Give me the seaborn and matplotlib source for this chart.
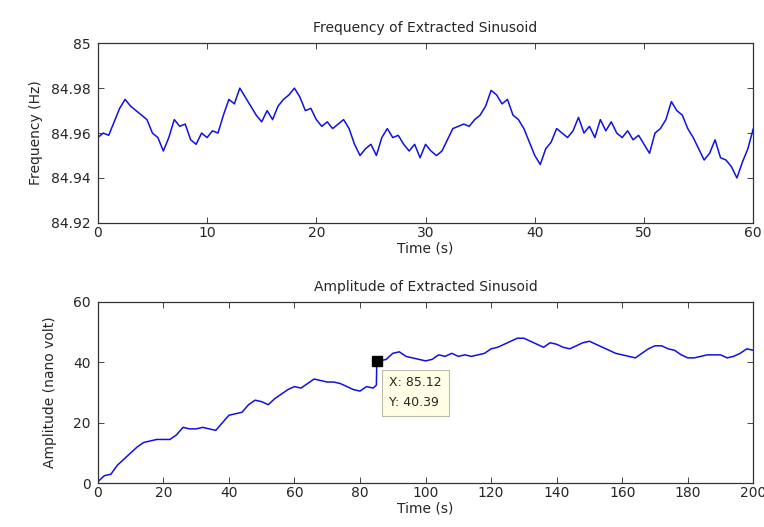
import numpy as np
import pandas as pd
import matplotlib
matplotlib.use("Agg")
import matplotlib.pyplot as plt
import seaborn as sns

freq_time = np.arange(0, 60.01, 0.5)
freq_hz = [
    84.958, 84.960, 84.959, 84.965, 84.971, 84.975, 84.972, 84.970, 84.968, 84.966,
    84.960, 84.958, 84.952, 84.958, 84.966, 84.963, 84.964, 84.957, 84.955, 84.960,
    84.958, 84.961, 84.960, 84.968, 84.975, 84.973, 84.980, 84.976, 84.972, 84.968,
    84.965, 84.970, 84.966, 84.972, 84.975, 84.977, 84.980, 84.976, 84.970, 84.971,
    84.966, 84.963, 84.965, 84.962, 84.964, 84.966, 84.962, 84.955, 84.950, 84.953,
    84.955, 84.950, 84.958, 84.962, 84.958, 84.959, 84.955, 84.952, 84.955, 84.949,
    84.955, 84.952, 84.950, 84.952, 84.957, 84.962, 84.963, 84.964, 84.963, 84.966,
    84.968, 84.972, 84.979, 84.977, 84.973, 84.975, 84.968, 84.966, 84.962, 84.956,
    84.950, 84.946, 84.953, 84.956, 84.962, 84.960, 84.958, 84.961, 84.967, 84.960,
    84.963, 84.958, 84.966, 84.961, 84.965, 84.960, 84.958, 84.961, 84.957, 84.959,
    84.955, 84.951, 84.960, 84.962, 84.966, 84.974, 84.970, 84.968, 84.962, 84.958,
    84.953, 84.948, 84.951, 84.957, 84.949, 84.948, 84.945, 84.940, 84.947, 84.953,
    84.962,
]

# amplitude of extracted sinusoid (nano volt)
amp_time = [0, 2, 4, 6, 8, 10, 12, 14, 16, 18, 20, 22, 24, 26, 28, 30, 32, 34, 36, 38,
            40, 42, 44, 46, 48, 50, 52, 54, 56, 58, 60, 62, 64, 66, 68, 70, 72, 74, 76, 78,
            80, 82, 84, 85, 85.12, 86, 88, 90, 92, 94, 96, 98, 100, 102, 104, 106, 108, 110,
            112, 114, 116, 118, 120, 122, 124, 126, 128, 130, 132, 134, 136, 138, 140, 142,
            144, 146, 148, 150, 152, 154, 156, 158, 160, 162, 164, 166, 168, 170, 172, 174,
            176, 178, 180, 182, 184, 186, 188, 190, 192, 194, 196, 198, 200]
amp_nv = [0.5, 2.5, 3, 6, 8, 10, 12, 13.5, 14, 14.5, 14.5, 14.5, 16, 18.5, 18, 18, 18.5, 18, 17.5, 20,
          22.5, 23, 23.5, 26, 27.5, 27, 26, 28, 29.5, 31, 32, 31.5, 33, 34.5, 34, 33.5, 33.5, 33, 32, 31,
          30.5, 32, 31.5, 32.5, 40.39, 40.5, 41, 43, 43.5, 42, 41.5, 41, 40.5, 41, 42.5, 42, 43, 42,
          42.5, 42, 42.5, 43, 44.5, 45, 46, 47, 48, 48, 47, 46, 45, 46.5, 46, 45,
          44.5, 45.5, 46.5, 47, 46, 45, 44, 43, 42.5, 42, 41.5, 43, 44.5, 45.5, 45.5, 44.5,
          44, 42.5, 41.5, 41.5, 42, 42.5, 42.5, 42.5, 41.5, 42, 43, 44.5, 44]

tip_x, tip_y = 85.12, 40.39

freq_df = pd.DataFrame({"t": freq_time, "f": freq_hz})
amp_df = pd.DataFrame({"t": amp_time, "a": amp_nv})

sns.set_style("ticks")
plt.rcParams["font.family"] = ["DejaVu Sans"]
plt.rcParams["font.size"] = 10

fig = plt.figure(figsize=(7.64, 5.27), dpi=100)
ax1 = fig.add_axes([0.128, 0.577, 0.858, 0.341])
ax2 = fig.add_axes([0.128, 0.083, 0.858, 0.344])

sns.lineplot(data=freq_df, x="t", y="f", ax=ax1, color="#1010e0", lw=1.1)
ax1.set_xlim(0, 60)
ax1.set_ylim(84.92, 85)
ax1.set_xticks([0, 10, 20, 30, 40, 50, 60])
ax1.set_yticks([84.92, 84.94, 84.96, 84.98, 85])
ax1.set_yticklabels(["84.92", "84.94", "84.96", "84.98", "85"])
ax1.set_title("Frequency of Extracted Sinusoid", fontsize=10, pad=8)
ax1.set_xlabel("Time (s)", labelpad=1)
ax1.set_ylabel("Frequency (Hz)", labelpad=6)

sns.lineplot(data=amp_df, x="t", y="a", ax=ax2, color="#1010e0", lw=1.1)
ax2.set_xlim(0, 200)
ax2.set_ylim(0, 60)
ax2.set_xticks(range(0, 201, 20))
ax2.set_yticks([0, 20, 40, 60])
ax2.set_title("Amplitude of Extracted Sinusoid", fontsize=10, pad=8)
ax2.set_xlabel("Time (s)", labelpad=1)
ax2.set_ylabel("Amplitude (nano volt)", labelpad=12)

# data tip
ax2.plot(tip_x, tip_y, marker="s", color="black", ms=7, ls="none")
ax2.annotate(f"X: {tip_x:.2f}\nY: {tip_y:.2f}", xy=(tip_x, tip_y), xytext=(9, -11),
             textcoords="offset points", va="top", ha="left", fontsize=9,
             linespacing=1.7,
             bbox=dict(boxstyle="square,pad=0.55", fc="#ffffe6", ec="#bbbbaa", lw=0.8))

for ax in (ax1, ax2):
    ax.tick_params(direction="in", top=True, right=True, length=4, width=0.6, pad=2)
    ax.tick_params(axis="y", pad=5)
    for s in ax.spines.values():
        s.set_linewidth(0.9)
        s.set_color("#333333")

fig.savefig("out.png", dpi=100)
